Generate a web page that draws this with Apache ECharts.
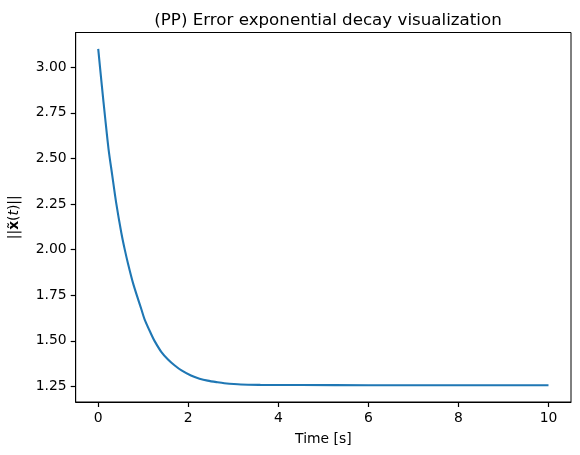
<!DOCTYPE html>
<html>
<head>
<meta charset="utf-8">
<script src="https://cdn.jsdelivr.net/npm/echarts@6/dist/echarts.min.js"></script>
<style>
  html, body { margin: 0; padding: 0; background: #fff; }
  #chart { width: 580px; height: 455px; }
</style>
</head>
<body>
<div id="chart"></div>
<script>
// values
const timeValues = [0, 0.08, 0.155, 0.23, 0.31, 0.40, 0.515, 0.59, 0.665, 0.775, 0.89, 0.96, 1.03, 1.18, 1.25, 1.40, 1.55, 1.70, 1.85, 2.06, 2.25, 2.43, 2.65, 2.80, 3.17, 3.60, 4.50, 6, 8, 10]
const errorValues = [3.10, 2.90, 2.72, 2.55, 2.41, 2.255, 2.09, 2.0, 1.92, 1.815, 1.725, 1.672, 1.618, 1.535, 1.50, 1.44, 1.398, 1.365, 1.338, 1.31, 1.293, 1.282, 1.273, 1.268, 1.261, 1.259, 1.258, 1.257, 1.257, 1.257]
const xTicks = [0, 2, 4, 6, 8, 10]
const yTicks = [1.25, 1.5, 1.75, 2.0, 2.25, 2.5, 2.75, 3.0]

const font = 'DejaVu Sans'
const chart = echarts.init(document.getElementById('chart'))

const points = timeValues.map((t, i) => [t, errorValues[i]])

chart.setOption({
  animation: false,
  title: {
    text: '(PP) Error exponential decay visualization',
    left: 323,
    top: 7,
    textAlign: 'center',
    textStyle: { fontFamily: font, fontSize: 16.7, fontWeight: 'normal', color: '#000' },
  },
  grid: {
    left: 75.7, right: 9, top: 32.5, bottom: 53,
    outerBoundsMode: 'none',
    show: true, borderColor: '#000', borderWidth: 1, backgroundColor: 'transparent',
  },
  xAxis: {
    type: 'value',
    min: -0.5,
    max: 10.5,
    name: 'Time [s]',
    nameLocation: 'middle',
    nameGap: 30,
    nameTextStyle: { fontFamily: font, fontSize: 13.9, color: '#000' },
    axisLine: { show: true, onZero: false, lineStyle: { color: '#000', width: 1 } },
    splitLine: { show: false },
    axisTick: { show: true, length: 5, lineStyle: { color: '#000', width: 1.2 }, customValues: xTicks },
    axisLabel: {
      margin: 9, fontFamily: font, fontSize: 13.9, color: '#000',
      customValues: xTicks,
    },
  },
  yAxis: {
    type: 'value',
    min: 1.165,
    max: 3.19,
    name: '||{b|x\u0303}({i|t})||',
    nameLocation: 'middle',
    nameRotate: 90,
    nameGap: 54,
    nameTextStyle: {
      fontFamily: font, fontSize: 13.9, color: '#000',
      rich: {
        b: { fontFamily: font, fontSize: 13.9, fontWeight: 'bold', color: '#000' },
        i: { fontFamily: font, fontSize: 13.9, fontStyle: 'italic', color: '#000' },
      },
    },
    axisLine: { show: true, onZero: false, lineStyle: { color: '#000', width: 1 } },
    splitLine: { show: false },
    axisTick: { show: true, length: 5, lineStyle: { color: '#000', width: 1.2 }, customValues: yTicks },
    axisLabel: {
      margin: 9, fontFamily: font, fontSize: 13.9, color: '#000',
      customValues: yTicks,
      formatter: v => v.toFixed(2),
    },
  },
  series: [
    {
      type: 'line',
      data: points,
      showSymbol: false,
      smooth: 0.3,
      lineStyle: { color: '#1f77b4', width: 2.1 },
      itemStyle: { color: '#1f77b4' },
    },
  ],
})
</script>
</body>
</html>
